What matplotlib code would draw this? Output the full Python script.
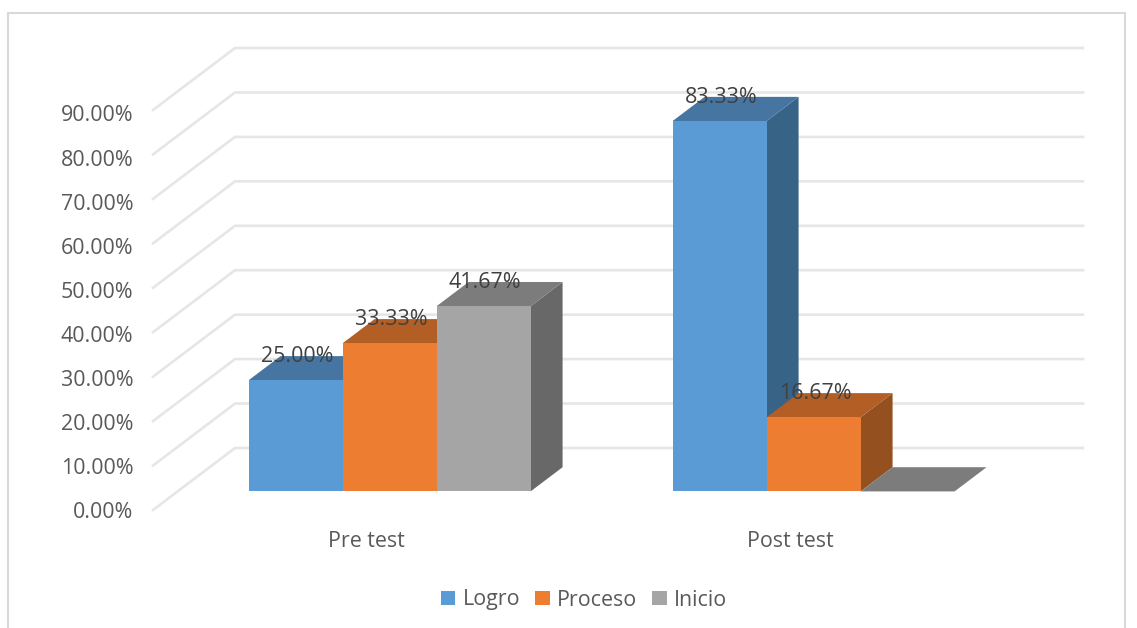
import numpy as np
import matplotlib.pyplot as plt
from matplotlib.patches import Polygon, Patch, Rectangle

categories = ["Pre test", "Post test"]
series_names = ["Logro", "Proceso", "Inicio"]
logro = [25.00, 83.33]
proceso = [33.33, 16.67]
inicio = [41.67, 0.00]
y_ticks = [0, 10, 20, 30, 40, 50, 60, 70, 80, 90]

FRONT_COLORS = ["#5b9bd5", "#ed7d31", "#a5a5a5"]
TOP_COLORS = ["#4575a0", "#b25e24", "#7c7c7c"]
SIDE_COLORS = ["#376387", "#94501e", "#686868"]
GRID = "#e6e6e6"
TEXT = "#595959"
LABEL = "#404040"
FONT_SIZE = 15.4

W, H = 1137, 628
# chart scale in pixels, read from the front edge of the floor
PX_PER_CAT = 424.0
PX_PER_PCT = 400.0 / 90
FLOOR_LEFT_PX = 153.0
FLOOR_FRONT_PX = 510.0
# oblique offset of the back wall
DEPTH_X = 82.0 / PX_PER_CAT
DEPTH_Y = 62.0 / PX_PER_PCT
BAR_W = 94.0 / PX_PER_CAT
BAR_D0 = 0.30
BAR_D1 = 0.69


def project(x, y, d):
    return x + d * DEPTH_X, y + d * DEPTH_Y


def draw_box(ax, x0, x1, value, idx, z):
    d0, d1 = BAR_D0, BAR_D1
    side = [project(x1, 0, d0), project(x1, 0, d1), project(x1, value, d1), project(x1, value, d0)]
    top = [project(x0, value, d0), project(x1, value, d0), project(x1, value, d1), project(x0, value, d1)]
    front = [project(x0, 0, d0), project(x1, 0, d0), project(x1, value, d0), project(x0, value, d0)]
    ax.add_patch(Polygon(side, closed=True, fc=SIDE_COLORS[idx], ec="none", zorder=z))
    ax.add_patch(Polygon(top, closed=True, fc=TOP_COLORS[idx], ec="none", zorder=z))
    ax.add_patch(Polygon(front, closed=True, fc=FRONT_COLORS[idx], ec="none", zorder=z))


plt.rcParams["font.family"] = ["Open Sans", "DejaVu Sans"]
fig = plt.figure(figsize=(W / 100, H / 100), dpi=100, facecolor="white")
ax = fig.add_axes([0, 0, 1, 1])
ax.set_xlim(-0.5 - FLOOR_LEFT_PX / PX_PER_CAT, -0.5 + (W - FLOOR_LEFT_PX) / PX_PER_CAT)
ax.set_ylim(-(H - FLOOR_FRONT_PX) / PX_PER_PCT, FLOOR_FRONT_PX / PX_PER_PCT)
ax.axis("off")

# chart frame
fig.add_artist(Rectangle((8 / W, -0.02), (1125 - 8) / W, 1.02 - 13 / H, transform=fig.transFigure,
                         fc="none", ec="#d9d9d9", lw=1.5))

# gridlines on left wall and back wall
for t in y_ticks:
    xa, ya = project(-0.5, t, 0)
    xb, yb = project(-0.5, t, 1)
    xc, yc = project(1.5, t, 1)
    ax.plot([xa, xb, xc], [ya, yb, yc], color=GRID, lw=1.9, solid_joinstyle="miter", zorder=1)
    # tick labels run slightly tighter than the gridlines
    ax.annotate(f"{t:.2f}%", (xa, ya), xytext=(-14, -2 - 0.025 * t), textcoords="offset points",
                ha="right", va="center", fontsize=FONT_SIZE, color=TEXT)

all_series = [logro, proceso, inicio]
for g in range(len(categories)):
    for s, values in enumerate(all_series):
        x0 = g + (s - 1.5) * BAR_W
        draw_box(ax, x0, x0 + BAR_W, values[g], s, 3 + g * 3 + s)

# data labels go on top of every bar
for g in range(len(categories)):
    for s, values in enumerate(all_series):
        if values[g] == 0:
            continue
        x0 = g + (s - 1.5) * BAR_W
        px, py = project(x0 + BAR_W / 2, values[g], BAR_D0)
        ax.annotate(f"{values[g]:.2f}%", (px, py), xytext=(1, 17), textcoords="offset points",
                    ha="center", va="center", fontsize=FONT_SIZE, color=LABEL, zorder=30)

for g, name in enumerate(categories):
    ax.annotate(name, project(g, 0, 0), xytext=(1, -23), textcoords="offset points",
                ha="center", va="center", fontsize=FONT_SIZE, color=TEXT)

handles = [Patch(fc=c, ec="none", label=n) for c, n in zip(FRONT_COLORS, series_names)]
fig.legend(handles=handles, loc="center", bbox_to_anchor=(584 / W, 1 - 600 / H), ncol=3, frameon=False,
           fontsize=FONT_SIZE, labelcolor=TEXT, handlelength=0.68, handleheight=0.68,
           handletextpad=0.35, columnspacing=0.7)

fig.savefig("out.png", dpi=100)
